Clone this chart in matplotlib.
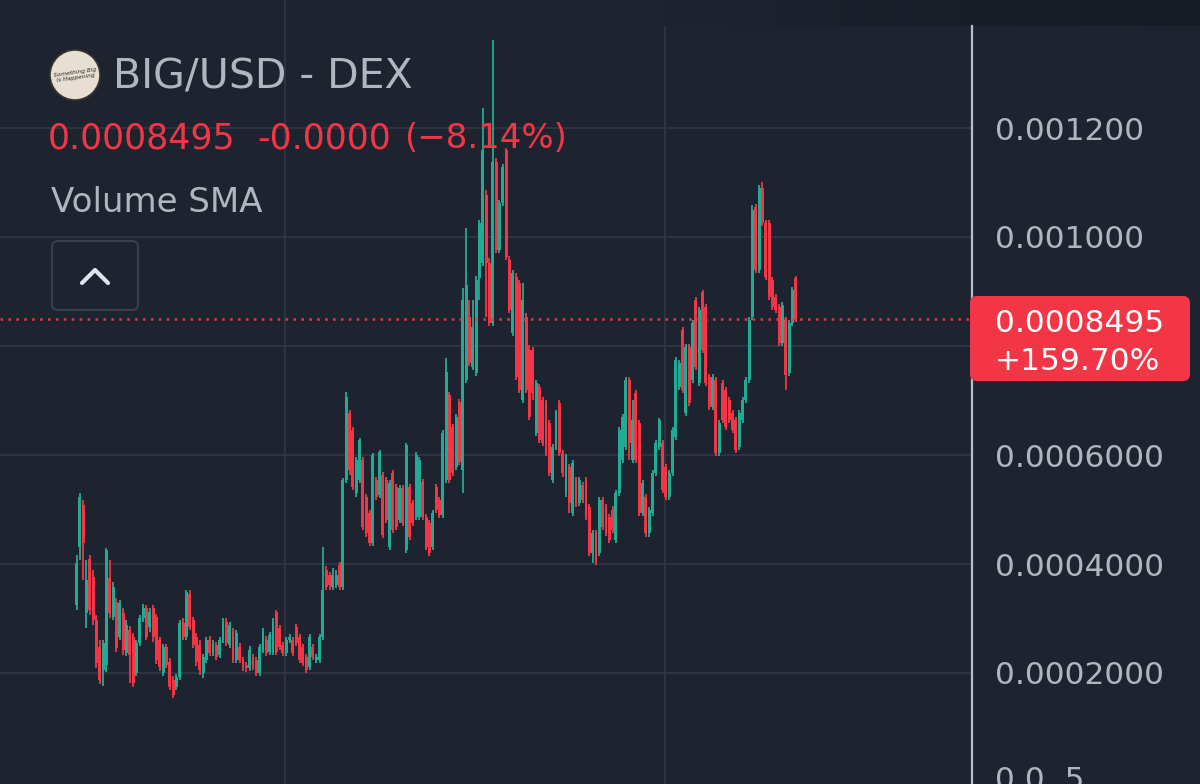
import numpy as np
import matplotlib
matplotlib.use("Agg")
import matplotlib.pyplot as plt
from matplotlib.patches import FancyBboxPatch, Circle
from matplotlib.colors import LinearSegmentedColormap

# ---------------- data (prices in units of 1e-4 USD) ----------------
SCALE = 1e-4
opens = [
    3.25, 4.31, 5.08, 3.10, 4.09, 3.76, 2.97, 2.48, 2.06, 2.15,
    3.74, 3.03, 3.30, 2.66, 3.10, 2.37, 2.79, 2.66, 2.00, 2.55,
    3.01, 3.19, 2.84, 3.19, 3.03, 2.61, 2.00, 2.48, 2.20, 1.87,
    1.74, 1.93, 2.92, 2.66, 3.45, 2.97, 2.66, 2.51, 2.00, 2.24,
    2.61, 2.37, 2.51, 2.33, 2.61, 2.94, 2.51, 2.75, 2.24, 2.48,
    2.24, 2.15, 2.09, 2.29, 2.24, 2.00, 2.42, 2.61, 2.39, 2.39,
    3.12, 2.83, 2.51, 2.37, 2.61, 2.61, 2.84, 2.66, 2.48, 2.29,
    2.11, 2.48, 2.24, 2.24, 2.66, 3.89, 3.80, 3.58, 3.61, 3.98,
    3.58, 5.54, 6.77, 6.46, 5.30, 5.54, 5.91, 5.23, 4.94, 4.39,
    5.54, 5.27, 5.63, 5.54, 4.31, 5.67, 5.41, 4.81, 5.39, 4.26,
    5.41, 5.12, 4.86, 4.86, 5.50, 4.86, 4.75, 4.31, 5.41, 5.17,
    4.90, 5.54, 7.10, 6.51, 5.78, 6.97, 5.72, 7.38, 8.53, 7.61,
    7.50, 9.25, 9.52, 10.77, 9.52, 8.42, 11.38, 9.76, 10.62, 11.60,
    9.58, 8.24, 9.27, 9.16, 7.01, 8.53, 7.93, 7.93, 6.40, 7.25,
    7.01, 6.95, 6.59, 5.54, 6.15, 6.95, 6.04, 5.30, 5.78, 4.94,
    5.54, 5.12, 5.45, 5.54, 5.05, 4.20, 4.57, 4.20, 5.17, 5.05,
    4.86, 4.99, 4.44, 5.30, 5.91, 6.15, 7.38, 5.91, 7.14, 6.59,
    4.94, 5.23, 4.57, 4.94, 5.67, 6.15, 6.22, 5.78, 5.23, 5.67,
    6.33, 7.25, 8.29, 6.77, 7.98, 7.38, 8.84, 7.32, 8.99, 8.72,
    7.43, 6.88, 7.38, 6.04, 7.32, 7.19, 7.01, 6.77, 6.64, 6.15,
    6.64, 7.01, 7.38, 8.53, 10.55, 9.39, 10.90, 10.26, 10.26, 9.21,
    8.90, 8.72, 8.06, 8.48, 7.50, 8.42, 9.248,
]
highs = [
    4.17, 5.30, 5.17, 4.07, 4.17, 3.89, 3.06, 2.61, 2.61, 4.29,
    4.07, 3.67, 3.38, 3.34, 3.19, 2.97, 2.86, 2.73, 2.61, 3.06,
    3.27, 3.25, 3.19, 3.25, 3.08, 2.66, 2.53, 2.53, 2.28, 1.94,
    1.98, 2.97, 3.01, 3.52, 3.52, 3.03, 2.73, 2.61, 2.35, 2.66,
    2.68, 2.61, 2.57, 2.66, 3.01, 3.01, 2.94, 2.83, 2.79, 2.55,
    2.29, 2.20, 2.50, 2.35, 2.29, 2.53, 2.83, 2.68, 2.75, 3.01,
    3.16, 2.88, 2.57, 2.66, 2.72, 2.66, 2.90, 2.72, 2.53, 2.35,
    2.72, 2.53, 2.35, 2.72, 4.31, 3.96, 3.85, 3.93, 3.89, 4.04,
    5.58, 7.16, 6.83, 6.51, 5.96, 6.31, 5.96, 5.28, 4.99, 6.04,
    5.60, 6.09, 5.69, 5.60, 5.54, 5.72, 5.47, 5.45, 5.45, 6.22,
    5.47, 5.17, 6.06, 5.96, 5.56, 4.92, 4.81, 4.99, 5.47, 5.23,
    6.46, 7.78, 7.16, 6.57, 6.75, 7.03, 9.06, 10.17, 8.84, 8.84,
    9.28, 10.31, 12.37, 10.86, 9.61, 13.61, 11.45, 10.68, 11.34, 11.63,
    9.65, 9.39, 9.34, 9.21, 9.16, 8.61, 8.02, 7.98, 7.38, 7.30,
    7.06, 7.01, 6.64, 6.20, 6.83, 7.01, 6.09, 6.02, 5.83, 5.91,
    5.60, 5.60, 5.50, 5.60, 5.10, 4.62, 4.62, 5.23, 5.23, 5.10,
    4.92, 5.06, 5.36, 6.51, 6.75, 7.43, 7.43, 7.01, 7.19, 6.64,
    5.54, 5.28, 5.05, 5.72, 6.28, 6.68, 6.28, 5.83, 5.72, 6.51,
    7.80, 7.74, 8.35, 8.04, 8.04, 8.48, 8.90, 8.72, 9.03, 8.77,
    7.49, 7.49, 7.43, 6.64, 7.38, 7.25, 7.06, 6.83, 6.70, 6.83,
    7.06, 7.43, 8.53, 10.59, 10.61, 10.95, 11.01, 10.31, 10.31, 9.27,
    8.95, 8.77, 8.81, 8.53, 8.48, 9.08, 9.28,
]
lows = [
    3.16, 4.07, 3.71, 2.83, 3.06, 2.88, 2.09, 1.80, 1.76, 2.02,
    3.01, 2.97, 2.39, 2.61, 2.33, 2.31, 1.82, 1.74, 1.94, 2.50,
    2.94, 2.61, 2.75, 2.57, 2.17, 2.04, 1.94, 2.09, 1.69, 1.54,
    1.69, 1.87, 2.61, 2.61, 2.79, 2.46, 2.13, 1.96, 1.91, 2.18,
    2.31, 2.31, 2.24, 2.28, 2.55, 2.50, 2.46, 2.18, 2.18, 2.18,
    2.04, 2.02, 2.04, 2.06, 1.94, 1.94, 2.37, 2.31, 2.33, 2.33,
    2.33, 2.42, 2.31, 2.31, 2.55, 2.31, 2.50, 2.18, 2.13, 2.00,
    2.06, 2.24, 2.18, 2.18, 2.61, 3.52, 3.52, 3.52, 3.56, 3.52,
    3.52, 5.49, 5.63, 5.36, 5.23, 5.49, 4.62, 4.50, 4.33, 4.33,
    5.17, 5.21, 4.48, 4.75, 4.26, 4.57, 4.62, 4.75, 4.70, 4.20,
    4.44, 4.70, 4.81, 4.81, 4.81, 4.26, 4.15, 4.26, 4.94, 4.84,
    4.84, 5.49, 5.49, 5.61, 5.72, 5.82, 5.30, 7.32, 7.63, 7.56,
    7.45, 8.84, 9.47, 8.53, 8.37, 8.37, 9.71, 9.71, 10.57, 9.58,
    8.61, 8.18, 7.38, 7.14, 6.95, 7.14, 6.64, 7.01, 6.35, 6.22,
    6.17, 5.98, 5.61, 5.49, 6.09, 5.98, 5.60, 5.23, 4.94, 4.88,
    5.05, 5.06, 5.12, 4.81, 4.15, 4.02, 3.98, 4.15, 4.62, 4.51,
    4.39, 4.57, 4.39, 5.25, 5.85, 6.09, 5.91, 5.85, 5.85, 4.88,
    4.88, 4.50, 4.50, 4.88, 5.61, 6.09, 5.30, 5.17, 5.17, 5.61,
    6.28, 7.19, 7.14, 6.72, 6.90, 7.32, 7.56, 7.27, 7.87, 7.27,
    6.83, 6.83, 5.98, 5.98, 6.59, 6.46, 6.59, 6.40, 6.04, 6.09,
    6.59, 6.95, 7.32, 8.48, 9.34, 9.34, 10.20, 9.21, 8.84, 8.66,
    8.61, 8.00, 8.00, 7.19, 7.45, 8.37, 8.44,
]
closes = [
    4.02, 5.23, 4.39, 3.71, 3.16, 2.97, 2.18, 1.87, 2.55, 4.26,
    3.10, 3.58, 2.46, 3.28, 2.42, 2.88, 2.33, 1.82, 2.55, 3.01,
    3.19, 2.66, 3.12, 2.66, 2.24, 2.11, 2.48, 2.15, 1.74, 1.60,
    1.93, 2.92, 2.66, 3.49, 2.84, 2.51, 2.20, 2.06, 2.29, 2.61,
    2.37, 2.55, 2.29, 2.61, 2.94, 2.55, 2.88, 2.24, 2.73, 2.24,
    2.09, 2.09, 2.42, 2.11, 2.00, 2.48, 2.75, 2.37, 2.70, 2.94,
    2.39, 2.48, 2.37, 2.61, 2.66, 2.37, 2.55, 2.24, 2.18, 2.06,
    2.66, 2.29, 2.29, 2.66, 3.52, 3.58, 3.61, 3.80, 3.80, 3.58,
    5.54, 7.06, 5.72, 5.41, 5.91, 6.28, 4.68, 4.57, 4.39, 6.00,
    5.23, 6.06, 4.53, 4.81, 5.49, 4.62, 4.68, 5.39, 4.75, 6.18,
    4.50, 4.75, 6.00, 5.91, 4.86, 4.31, 4.20, 4.94, 4.99, 4.90,
    6.40, 7.52, 5.54, 5.67, 6.70, 5.87, 8.84, 9.12, 7.69, 8.35,
    9.21, 10.26, 11.60, 9.52, 8.42, 11.38, 9.76, 10.62, 11.28, 9.63,
    8.66, 9.34, 7.43, 7.19, 8.84, 7.19, 6.70, 7.14, 7.32, 6.28,
    6.22, 6.04, 5.67, 6.15, 6.79, 6.04, 5.67, 5.96, 5.12, 5.85,
    5.12, 5.54, 5.17, 4.86, 4.20, 4.57, 4.04, 5.17, 4.68, 4.57,
    4.44, 4.62, 5.30, 6.46, 6.70, 7.38, 6.22, 6.64, 5.91, 4.94,
    5.49, 4.57, 4.99, 5.67, 6.22, 6.64, 5.36, 5.23, 5.67, 6.46,
    7.74, 7.69, 7.19, 7.98, 6.95, 8.42, 7.61, 8.66, 7.93, 7.32,
    6.88, 7.43, 6.04, 6.59, 6.64, 6.51, 6.64, 6.46, 6.09, 6.77,
    7.01, 7.38, 8.48, 10.50, 9.39, 10.90, 10.26, 9.27, 8.90, 8.72,
    8.66, 8.06, 8.75, 7.47, 8.42, 9.03, 8.495,
]

price_ticks = [0.0002, 0.0004, 0.0006, 0.0008, 0.0010, 0.0012]
price_tick_labels = ["0.0002000", "0.0004000", "0.0006000", "", "0.001000", "0.001200"]
time_grid = [62.6, 176.7]          # candle index of the two time grid lines
last_price = 0.0008495
last_price_text = "0.0008495"
change_pct_text = "+159.70%"
title = "BIG/USD - DEX"
ohlc_parts = ["0.0008495", "-0.0000", "(\u22128.14%)"]
indicator = "Volume SMA"
cut_label = "0.0 .5"

# ---------------- style ----------------
BG = "#1e2330"
GRID = "#2f3542"
GREEN = "#22ab94"
RED = "#f23645"
TXT = "#b2b5be"

W, H = 1200, 784
fig = plt.figure(figsize=(W / 100, H / 100), dpi=100, facecolor=BG)

# main price axes (pixel 0..972 horizontally)
ax = fig.add_axes([0, 0, 972 / W, 1])
ax.set_facecolor(BG)

n = min(len(opens), len(highs), len(lows), len(closes))
idx = np.arange(n)
o = np.array(opens[:n]) * SCALE
h = np.array(highs[:n]) * SCALE
l = np.array(lows[:n]) * SCALE
c = np.array(closes[:n]) * SCALE
up = c >= o
cols = np.where(up, GREEN, RED)

ax.vlines(idx, l, h, colors=cols, linewidth=1.3, zorder=3)
body = np.maximum(np.abs(c - o), 0.03 * SCALE)
ax.bar(idx, body, bottom=np.minimum(o, c), width=0.88, color=cols,
       linewidth=0, zorder=4)

# y mapping: 54.5 px per 1e-4, zero at pixel 782
px_per = 54.5
ax.set_ylim((782 - 784) / px_per * SCALE, 782 / px_per * SCALE)
ax.set_xlim(-76.5 / 3.33, (972 - 76.5) / 3.33)

ax.set_yticks(price_ticks)
ax.set_yticklabels(price_tick_labels)
ax.yaxis.tick_right()
ax.tick_params(axis="y", length=0, pad=16.5, labelsize=22.5, labelcolor=TXT)
ax.set_xticks(time_grid)
ax.tick_params(axis="x", length=0, labelbottom=False)
ax.grid(True, color=GRID, linewidth=1.3, zorder=0)
for s in ax.spines.values():
    s.set_visible(False)

ax.axhline(last_price, color=RED, linewidth=1.9, linestyle=(0, (1.0, 2.0)),
           alpha=0.9, zorder=5)

# ---------------- overlay in pixel coordinates ----------------
ov = fig.add_axes([0, 0, 1, 1], zorder=10)
ov.axis("off")
ov.patch.set_alpha(0)

# darker band on top-right
grad = np.linspace(0, 1, 256)[None, :]
cm = LinearSegmentedColormap.from_list("band", [BG, "#161a23"])
ov.imshow(grad, extent=(660, 1200, 26, 0), cmap=cm, aspect="auto", zorder=0)
ov.set_xlim(0, W)
ov.set_ylim(H, 0)

# right price-scale border
ov.plot([972, 972], [26, 784], color="#b9bdc7", linewidth=1.6, zorder=2)

# last price label box
box = FancyBboxPatch((970, 296), 220, 85, boxstyle="round,pad=0,rounding_size=7",
                     facecolor=RED, edgecolor="none", zorder=3)
ov.add_patch(box)
ov.text(995, 320, last_price_text, color="white", fontsize=22.5, ha="left",
        va="center_baseline", zorder=4)
ov.text(995, 358, change_pct_text, color="white", fontsize=22.5, ha="left",
        va="center_baseline", zorder=4)

# bottom label, cut by the picture edge as in the reference
ov.text(995, 766, cut_label, color=TXT, fontsize=22.5, ha="left", va="top", zorder=4)

# avatar
ov.add_patch(Circle((75, 75), 25, facecolor="#e6dfd2", edgecolor="#3a3530",
                    linewidth=1.2, zorder=3))
ov.text(75, 75, "Something Big\nIs Happening", fontsize=4.2, color="#2a2520",
        ha="center", va="center", rotation=8, style="italic", zorder=4)

# header texts
ov.text(113, 88, title, color=TXT, fontsize=29.5, ha="left", va="baseline", zorder=4)
ov.text(48, 148, ohlc_parts[0], color=RED, fontsize=25, ha="left", va="baseline", zorder=4)
ov.text(257, 148, ohlc_parts[1], color=RED, fontsize=25, ha="left", va="baseline", zorder=4)
ov.text(404, 148, ohlc_parts[2], color=RED, fontsize=24.5, ha="left", va="baseline", zorder=4)
ov.text(51, 212, indicator, color=TXT, fontsize=24.5, ha="left", va="baseline", zorder=4)

# collapse button
btn = FancyBboxPatch((52, 241), 86, 69, boxstyle="round,pad=0,rounding_size=6",
                     facecolor=BG, edgecolor="#3a3f4c", linewidth=1.5, zorder=3)
ov.add_patch(btn)
ov.plot([82, 95, 108], [283, 270, 283], color="#e0e3eb", linewidth=3,
        solid_capstyle="round", solid_joinstyle="round", zorder=4)

fig.savefig("out.png", dpi=100, facecolor=BG)
